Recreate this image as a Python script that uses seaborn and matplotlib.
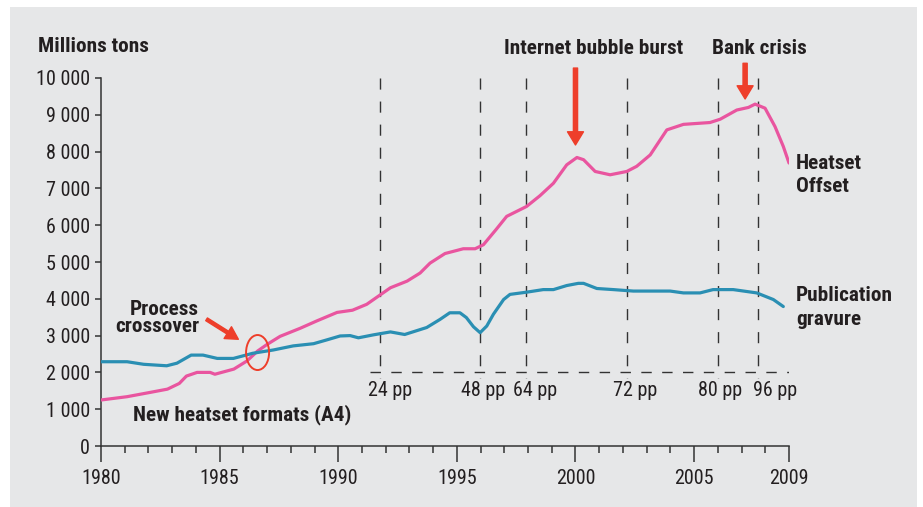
import matplotlib
matplotlib.use("Agg")
import matplotlib.pyplot as plt
from matplotlib import font_manager as fm
from matplotlib.patches import Ellipse, Rectangle
import seaborn as sns
import pandas as pd

# ---------------- data ----------------
heatset_years = [1980.0, 1981.1, 1982.1, 1982.8, 1983.3, 1983.6, 1984.05, 1984.6, 1984.8,
                 1985.6, 1986.15, 1986.6, 1987.0, 1987.55, 1988.4, 1989.1, 1989.95, 1990.6,
                 1991.2, 1991.8, 1992.2, 1992.9, 1993.45, 1993.87, 1994.5, 1995.27, 1995.77,
                 1996.12, 1996.65, 1997.1, 1997.94, 1998.5, 1999.07, 1999.63, 2000.06, 2000.34,
                 2000.83, 2001.46, 2002.16, 2002.58, 2003.15, 2003.85, 2004.55, 2005.67,
                 2006.1, 2006.8, 2007.29, 2007.57, 2007.99, 2008.41, 2008.76, 2009.0]
heatset_values = [1250, 1340, 1460, 1545, 1700, 1900, 2000, 2000, 1950,
                  2090, 2310, 2580, 2760, 2980, 3200, 3400, 3630, 3690,
                  3850, 4120, 4300, 4480, 4700, 4970, 5230, 5360, 5360,
                  5470, 5880, 6240, 6510, 6800, 7140, 7640, 7840, 7780,
                  7460, 7370, 7460, 7600, 7910, 8590, 8740, 8790,
                  8880, 9130, 9200, 9290, 9180, 8680, 8140, 7690]

gravure_years = [1980.0, 1981.1, 1981.8, 1982.77, 1983.2, 1983.8, 1984.3, 1984.9, 1985.58,
                 1986.4, 1987.27, 1988.1, 1988.96, 1989.5, 1990.08, 1990.5, 1990.85, 1991.48,
                 1992.2, 1992.8, 1993.73, 1994.29, 1994.7, 1995.13, 1995.4, 1995.7, 1995.98,
                 1996.26, 1996.54, 1996.97, 1997.24, 1997.94, 1998.64, 1999.07, 1999.63,
                 2000.12, 2000.34, 2000.9, 2001.6, 2002.44, 2003.99, 2004.55, 2005.25,
                 2005.8, 2006.65, 2007.64, 2008.34, 2008.76]
gravure_values = [2290, 2290, 2220, 2180, 2250, 2470, 2470, 2380, 2380,
                  2520, 2610, 2720, 2780, 2880, 2990, 3000, 2940, 3020,
                  3100, 3030, 3220, 3440, 3620, 3620, 3490, 3240, 3080,
                  3260, 3580, 3980, 4120, 4180, 4250, 4250, 4360,
                  4420, 4420, 4280, 4250, 4210, 4210, 4160, 4160,
                  4250, 4250, 4160, 3980, 3790]

format_years = [1991.76, 1995.98, 1997.92, 2002.18, 2006.0, 2007.7]
format_labels = ["24 pp", "48 pp", "64 pp", "72 pp", "80 pp", "96 pp"]
format_label_x = [1992.2, 1996.1, 1998.3, 2002.5, 2006.1, 2008.4]

y_ticks = list(range(0, 10001, 1000))
y_tick_labels = [f"{v:,}".replace(",", " ") for v in y_ticks]
x_major = [1980, 1985, 1990, 1995, 2000, 2005, 2009]
x_minor = list(range(1980, 2010))

# ---------------- font choice ----------------
_weights = {}
for f in fm.fontManager.ttflist:
    w = f.weight if isinstance(f.weight, int) else (700 if 'bold' in str(f.weight) else 400)
    _weights.setdefault(f.name, set()).add(w)
FONT = 'DejaVu Sans'
for cand in ['Roboto Condensed', 'PT Sans Narrow', 'Archivo Narrow', 'Fira Sans Condensed',
             'IBM Plex Sans Condensed', 'Barlow Semi Condensed', 'Asap Condensed']:
    ws = _weights.get(cand)
    if ws and any(w >= 700 for w in ws) and any(w <= 400 for w in ws):
        FONT = cand
        break

# ---------------- style ----------------
sns.set_style("ticks")
plt.rcParams['font.family'] = [FONT, 'DejaVu Sans']

TXT = '#231f20'
PINK = '#e9559f'
BLUE = '#2a8fb3'
RED = '#ee3e2a'
GRID = '#333333'
FS = 14.5
FSB = 15.3

fig = plt.figure(figsize=(9.23, 5.07), dpi=100)
fig.patch.set_facecolor('white')
fig.patches.append(Rectangle((10 / 923, 0), 907 / 923, 500 / 507, transform=fig.transFigure,
                             facecolor='#e6e7e8', edgecolor='none', zorder=-10))

ax = fig.add_axes([101 / 923, 61 / 507, 688 / 923, 368 / 507])
ax.set_facecolor('none')

df_h = pd.DataFrame({'year': heatset_years, 'tons': heatset_values})
df_g = pd.DataFrame({'year': gravure_years, 'tons': gravure_values})
sns.lineplot(data=df_h, x='year', y='tons', ax=ax, color=PINK, linewidth=2.3, zorder=5)
sns.lineplot(data=df_g, x='year', y='tons', ax=ax, color=BLUE, linewidth=2.3, zorder=5)

ax.set_xlim(1980, 2009)
ax.set_ylim(0, 10000)
ax.set_xlabel('')
ax.set_ylabel('')
for s in ['top', 'right']:
    ax.spines[s].set_visible(False)
for s in ['left', 'bottom']:
    ax.spines[s].set_color(GRID)
    ax.spines[s].set_linewidth(1.1)

ax.set_yticks(y_ticks)
ax.set_yticklabels(y_tick_labels)
ax.set_xticks(x_major)
ax.set_xticklabels([str(x) for x in x_major])
ax.set_xticks(x_minor, minor=True)
ax.tick_params(axis='x', which='major', length=11.5, width=1.1, color=GRID, pad=5,
               labelsize=FS, labelcolor=TXT)
ax.tick_params(axis='x', which='minor', length=5, width=1.1, color=GRID)
ax.tick_params(axis='y', which='major', length=4.3, width=1.1, color=GRID, pad=3.6,
               labelsize=FS, labelcolor=TXT)

# format lines
for x in format_years:
    ax.plot([x, x], [10000, 1850], color=GRID, lw=1.0, dashes=(8, 8.6), zorder=2, clip_on=False)
ax.plot([1991.35, 2009], [2000, 2000], color=GRID, lw=1.0, dashes=(7.5, 7.5), zorder=2)
for x, lab in zip(format_label_x, format_labels):
    ax.text(x, 1495, lab, ha='center', va='center', fontsize=FS, color=TXT)

# annotations
bold = dict(fontsize=FSB, fontweight='bold', color=TXT)
fig.text(38 / 923, 1 - 47 / 507, 'Millions tons', ha='left', va='center', **bold)
fig.text(593.5 / 923, 1 - 48 / 507, 'Internet bubble burst', ha='center', va='center', **bold)
fig.text(759 / 923, 1 - 48 / 507, 'Bank crisis', ha='center', va='center', **bold)

ax.annotate('', xy=(2000.0, 8180), xytext=(2000.0, 10270),
            arrowprops=dict(width=3, headwidth=11.5, headlength=9.5, color=RED, shrink=0),
            annotation_clip=False)
ax.annotate('', xy=(2007.15, 9430), xytext=(2007.15, 10400),
            arrowprops=dict(width=3, headwidth=11.5, headlength=9.5, color=RED, shrink=0),
            annotation_clip=False)
ax.annotate('', xy=(1985.79, 2900), xytext=(1984.45, 3443),
            arrowprops=dict(width=2.3, headwidth=10, headlength=9, color=RED, shrink=0),
            annotation_clip=False)
ax.add_patch(Ellipse((1986.6, 2540), 0.97, 951, fill=False, edgecolor=RED, lw=1.4, zorder=6))

ax.text(1984.13, 3478, 'Process\ncrossover', ha='right', va='center', multialignment='right',
        linespacing=0.9, **bold)
ax.text(1981.35, 856, 'New heatset formats (A4)', ha='left', va='center', **bold)
ax.text(2009.3, 7364, 'Heatset\nOffset', ha='left', va='center', clip_on=False, linespacing=1.3, **bold)
ax.text(2009.3, 3764, 'Publication\ngravure', ha='left', va='center', clip_on=False, linespacing=1.3, **bold)

fig.savefig('out.png', dpi=100)
